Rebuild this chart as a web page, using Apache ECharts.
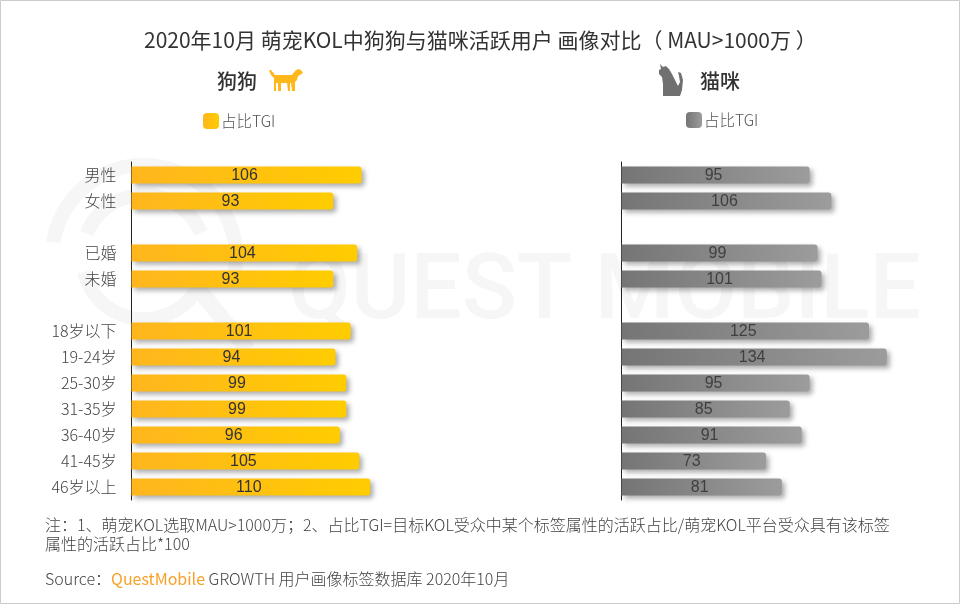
<!DOCTYPE html>
<html>
<head>
<meta charset="utf-8">
<script src="https://cdn.jsdelivr.net/npm/echarts@6/dist/echarts.min.js"></script>
<style>
html, body { margin: 0; padding: 0; background: #fff; }
#main { width: 960px; height: 604px; }
</style>
</head>
<body>
<div id="main"></div>
<script>
var categories = ['男性', '女性', '', '已婚', '未婚', ' ', '18岁以下', '19-24岁', '25-30岁', '31-35岁', '36-40岁', '41-45岁', '46岁以上'];
var dogValues = [106, 93, null, 104, 93, null, 101, 94, 99, 99, 96, 105, 110];
var catValues = [95, 106, null, 99, 101, null, 125, 134, 95, 85, 91, 73, 81];
var titleText = '2020年10月 萌宠KOL中狗狗与猫咪活跃用户 画像对比（ MAU>1000万 ）';
var noteLines = [
    '注：1、萌宠KOL选取MAU>1000万；2、占比TGI=目标KOL受众中某个标签属性的活跃占比/萌宠KOL平台受众具有该标签',
    '属性的活跃占比*100'
];

var cjk = '"Noto Sans CJK SC", sans-serif';
var wm = '#f6f6f6';

function gradient(from, to) {
    return new echarts.graphic.LinearGradient(0, 0, 1, 0, [
        { offset: 0, color: from },
        { offset: 1, color: to }
    ]);
}

function ring(r, w, start, end) {
    return {
        type: 'arc', silent: true, z: -1,
        shape: { cx: 144, cy: 257, r: r, startAngle: start, endAngle: end },
        style: { stroke: wm, lineWidth: w, fill: null }
    };
}

function barSeries(name, values, index, from, to, labelColor) {
    return {
        name: name,
        type: 'bar',
        xAxisIndex: index,
        yAxisIndex: index,
        data: values,
        barWidth: 17,
        itemStyle: {
            color: gradient(from, to),
            borderRadius: [0, 3, 3, 0],
            shadowColor: 'rgba(0,0,0,0.33)',
            shadowBlur: 5,
            shadowOffsetX: 3,
            shadowOffsetY: 3
        },
        label: {
            show: true,
            position: 'inside',
            offset: [-2, 1],
            fontFamily: '"Liberation Sans", Arial, sans-serif',
            fontSize: 16,
            color: labelColor
        }
    };
}

var myChart = echarts.init(document.getElementById('main'));
var option = {
    animation: false,
    backgroundColor: '#fff',
    textStyle: { fontFamily: cjk },
    legend: [
        {
            data: ['狗狗'], left: 203, top: 113, padding: 0, itemWidth: 16, itemHeight: 16, icon: 'roundRect',
            formatter: function () { return '占比TGI'; }, selectedMode: false,
            textStyle: { fontFamily: cjk, fontSize: 15.5, fontWeight: 300, color: '#555', padding: [0, 0, 0, -3] }
        },
        {
            data: ['猫咪'], left: 686, top: 112, padding: 0, itemWidth: 16, itemHeight: 16, icon: 'roundRect',
            formatter: function () { return '占比TGI'; }, selectedMode: false,
            textStyle: { fontFamily: cjk, fontSize: 15.5, fontWeight: 300, color: '#555', padding: [0, 0, 0, -3] }
        }
    ],
    grid: [
        { left: 131.5, top: 162, width: 434, height: 338 },
        { left: 621.5, top: 162, width: 297, height: 338 }
    ],
    xAxis: [
        { gridIndex: 0, type: 'value', min: 0, max: 200, show: false },
        { gridIndex: 1, type: 'value', min: 0, max: 150, show: false }
    ],
    yAxis: [
        {
            gridIndex: 0, type: 'category', inverse: true, data: categories,
            axisTick: { show: false },
            axisLine: { lineStyle: { color: '#222', width: 1 } },
            axisLabel: { margin: 15, fontSize: 16, fontWeight: 300, color: '#444', interval: 0, padding: [0, 0, 2, 0] }
        },
        {
            gridIndex: 1, type: 'category', inverse: true, data: categories,
            axisTick: { show: false },
            axisLine: { lineStyle: { color: '#222', width: 1 } },
            axisLabel: { show: false }
        }
    ],
    series: [
        barSeries('狗狗', dogValues, 0, '#ffb61e', '#ffcc00', '#333'),
        barSeries('猫咪', catValues, 1, '#757575', '#9c9c9c', '#3f3f3f')
    ],
    graphic: [
        // frame
        { type: 'rect', silent: true, shape: { x: 0.5, y: 0.5, width: 959, height: 603 }, style: { fill: null, stroke: '#ccc', lineWidth: 1 } },
        // watermark
        ring(92, 14, -2.9, -0.2),
        ring(92, 14, 3.3, 6.6),
        ring(62, 14, -2.75, -0.4),
        ring(62, 14, 0.4, 2.9),
        { type: 'line', silent: true, z: -1, shape: { x1: 195, y1: 285, x2: 248, y2: 350 }, style: { stroke: wm, lineWidth: 16 } },
        {
            type: 'text', silent: true, z: -1, left: 288, top: 250,
            style: { text: 'QUEST MOBILE', fontFamily: 'Roboto, sans-serif', fontSize: 91, fontWeight: 500, fill: wm }
        },
        // title and headers
        {
            type: 'text', left: 144, top: 30,
            style: { text: titleText, fontFamily: cjk, fontSize: 21, fill: '#333' }
        },
        { type: 'text', left: 217, top: 71, style: { text: '狗狗', fontFamily: cjk, fontSize: 20, fontWeight: 500, fill: '#333' } },
        { type: 'text', left: 700, top: 71, style: { text: '猫咪', fontFamily: cjk, fontSize: 20, fontWeight: 500, fill: '#333' } },
        // dog icon
        {
            type: 'polygon', silent: true,
            shape: {
                points: [[269, 70], [271, 70], [275, 75], [292, 75], [295, 71], [298, 69], [301, 70], [303, 73], [300, 75], [298, 76], [297, 80], [295, 82], [295, 91], [292, 91], [291, 83], [290, 83], [290, 91], [288, 91], [287, 83], [281, 83], [281, 91], [278, 91], [278, 83], [276, 83], [276, 91], [274, 91], [274, 78], [271, 75]]
            },
            style: { fill: '#ffb81c' }
        },
        // cat icon
        {
            type: 'polygon', silent: true,
            shape: {
                points: [[660, 64], [663, 67], [666, 66], [669, 69], [672, 74], [675, 80], [678, 86], [680, 82], [679, 76], [678, 72], [681, 73], [683, 80], [682, 90], [680, 96], [663, 96], [663, 84], [662, 77], [659, 74], [659, 70], [661, 69]]
            },
            style: { fill: '#707070' }
        },
        // notes
        { type: 'text', left: 45, top: 517, style: { text: noteLines[0], fontFamily: cjk, fontSize: 16, fontWeight: 300, fill: '#444' } },
        { type: 'text', left: 45, top: 536, style: { text: noteLines[1], fontFamily: cjk, fontSize: 16, fontWeight: 300, fill: '#444' } },
        {
            type: 'text', left: 45, top: 571,
            style: {
                text: '{a|Source：}{b|QuestMobile} {a|GROWTH 用户画像标签数据库 2020年10月}',
                fontFamily: cjk, fontSize: 16, fill: '#444',
                rich: {
                    a: { fontFamily: cjk, fontSize: 16, fontWeight: 300, fill: '#444' },
                    b: { fontFamily: cjk, fontSize: 16, fill: '#f7a128' }
                }
            }
        }
    ]
};
myChart.setOption(option);
window.addEventListener('resize', function () {
    myChart.resize();
});
</script>
</body>
</html>
